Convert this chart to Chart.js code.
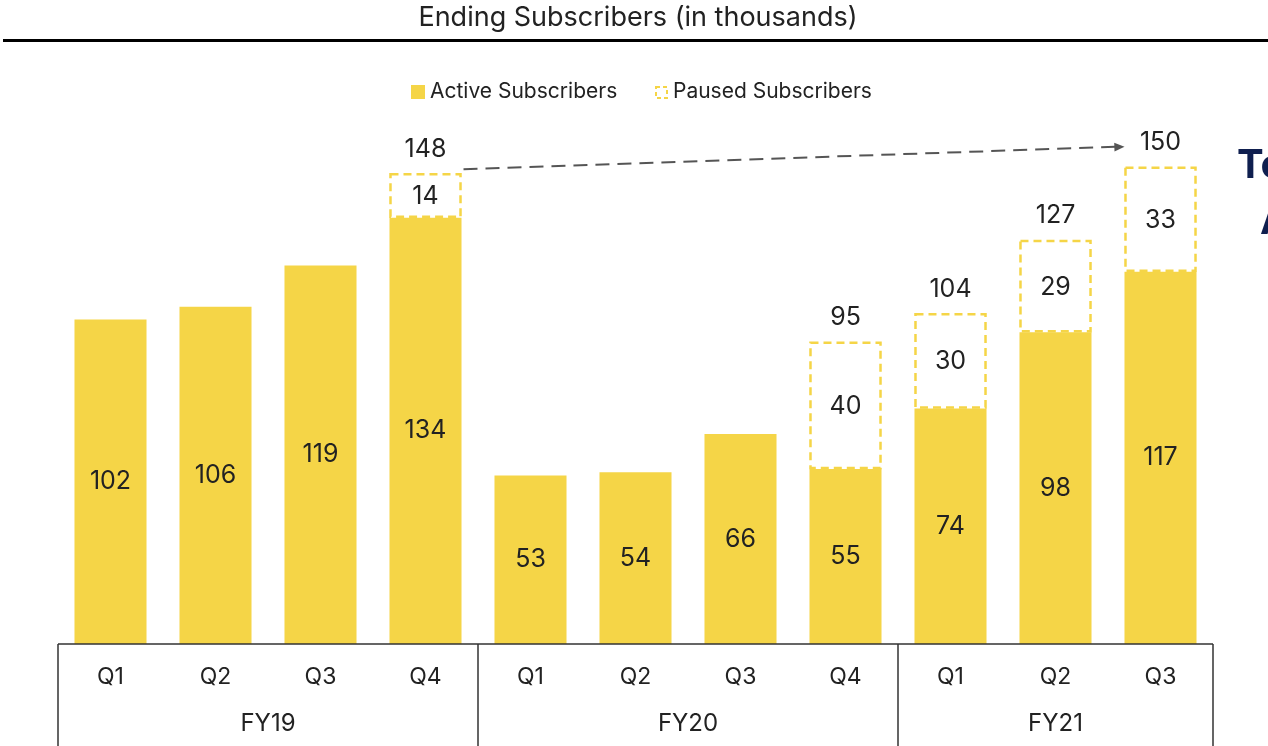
<!DOCTYPE html>
<html>
<head>
<meta charset="utf-8">
<script src="https://cdn.jsdelivr.net/npm/chart.js@4.4.1/dist/chart.umd.min.js"></script>
<style>
  html, body { margin: 0; padding: 0; background: #fff; }
  #wrap { width: 1268px; height: 746px; position: relative; }
</style>
</head>
<body>
<div id="wrap"><canvas id="chart"></canvas></div>
<script>
const quarters = ['Q1', 'Q2', 'Q3', 'Q4', 'Q1', 'Q2', 'Q3', 'Q4', 'Q1', 'Q2', 'Q3'];
const fiscalYears = ['FY19', 'FY20', 'FY21'];
const yearSizes = [4, 4, 3];
const active = [102, 106, 119, 134, 53, 54, 66, 55, 74, 98, 117];
const paused = [null, null, null, 14, null, null, null, 40, 30, 29, 33];
const totals = [null, null, null, 148, null, null, null, 95, 104, 127, 150];

const YELLOW = '#F5D547';
const TEXT = '#222222';
const FONT = 'Inter, "Noto Sans", sans-serif';

// title, legend, labels, arrow and the grouped axis table are drawn here
const decorations = {
  id: 'decorations',
  afterDatasetsDraw(chart) {
    const ctx = chart.ctx;
    const activeBars = chart.getDatasetMeta(0).data;
    const pausedBars = chart.getDatasetMeta(1).data;
    ctx.save();

    // paused boxes: dashed yellow outline
    ctx.strokeStyle = YELLOW;
    ctx.lineWidth = 2.5;
    ctx.setLineDash([8, 5]);
    pausedBars.forEach((bar, i) => {
      if (paused[i] == null) return;
      const w = bar.width;
      ctx.strokeRect(bar.x - w / 2 + 1, bar.y + 1, w - 2, bar.base - bar.y - 2);
    });
    ctx.setLineDash([]);

    ctx.fillStyle = TEXT;
    ctx.font = '25px ' + FONT;
    ctx.textAlign = 'center';
    ctx.textBaseline = 'middle';
    activeBars.forEach((bar, i) => {
      ctx.fillText(String(active[i]), bar.x, (bar.y + bar.base) / 2);
    });
    pausedBars.forEach((bar, i) => {
      if (paused[i] == null) return;
      ctx.fillText(String(paused[i]), bar.x, (bar.y + bar.base) / 2 + 1);
      ctx.fillText(String(totals[i]), bar.x, bar.y - 24);
    });

    // dashed growth arrow from FY19 Q4 to FY21 Q3
    const from = pausedBars[3];
    const to = pausedBars[10];
    const x1 = from.x + from.width / 2 + 2, y1 = from.y - 4;
    const x2 = to.x - 36, y2 = to.y - 20;
    ctx.strokeStyle = '#555';
    ctx.lineWidth = 2;
    ctx.setLineDash([14, 8]);
    ctx.beginPath();
    ctx.moveTo(x1, y1);
    ctx.lineTo(x2 - 8, y2);
    ctx.stroke();
    ctx.setLineDash([]);
    const ang = Math.atan2(y2 - y1, x2 - x1);
    ctx.fillStyle = '#555';
    ctx.beginPath();
    ctx.moveTo(x2, y2);
    ctx.lineTo(x2 - 11 * Math.cos(ang - 0.4), y2 - 11 * Math.sin(ang - 0.4));
    ctx.lineTo(x2 - 11 * Math.cos(ang + 0.4), y2 - 11 * Math.sin(ang + 0.4));
    ctx.closePath();
    ctx.fill();

    // category table under the bars
    const area = chart.chartArea;
    const bottom = chart.height;
    ctx.strokeStyle = '#333';
    ctx.lineWidth = 1.5;
    ctx.beginPath();
    ctx.moveTo(area.left, area.bottom);
    ctx.lineTo(area.right, area.bottom);
    ctx.moveTo(area.left, area.bottom);
    ctx.lineTo(area.left, bottom);
    ctx.moveTo(area.right, area.bottom);
    ctx.lineTo(area.right, bottom);
    let start = 0;
    const groupBounds = [];
    yearSizes.forEach((n, g) => {
      const first = activeBars[start];
      const last = activeBars[start + n - 1];
      const left = g === 0 ? area.left : (activeBars[start - 1].x + first.x) / 2;
      const right = g === yearSizes.length - 1 ? area.right : (last.x + activeBars[start + n].x) / 2;
      groupBounds.push([left, right]);
      if (g > 0) {
        ctx.moveTo(left, area.bottom);
        ctx.lineTo(left, bottom);
      }
      start += n;
    });
    ctx.stroke();

    ctx.fillStyle = TEXT;
    ctx.font = '23px ' + FONT;
    activeBars.forEach((bar, i) => {
      ctx.fillText(quarters[i], bar.x, area.bottom + 33);
    });
    ctx.font = '24px ' + FONT;
    groupBounds.forEach(([l, r], g) => {
      ctx.fillText(fiscalYears[g], (l + r) / 2, area.bottom + 80);
    });

    // heading and rule
    ctx.font = '27px ' + FONT;
    ctx.fillText('Ending Subscribers (in thousands)', 638, 18);
    ctx.fillStyle = '#000';
    ctx.fillRect(3, 39, 1265, 3);

    // legend
    ctx.font = '21px ' + FONT;
    ctx.textAlign = 'left';
    ctx.fillStyle = YELLOW;
    ctx.fillRect(411, 85, 14, 14);
    ctx.fillStyle = TEXT;
    ctx.fillText('Active Subscribers', 430, 92);
    ctx.strokeStyle = YELLOW;
    ctx.lineWidth = 2;
    ctx.setLineDash([4, 3]);
    ctx.strokeRect(656, 87, 11, 11);
    ctx.setLineDash([]);
    ctx.fillText('Paused Subscribers', 673, 92);

    // side heading running off the right edge
    ctx.fillStyle = '#0F1F4F';
    ctx.font = 'bold 40px ' + FONT;
    ctx.fillText('To', 1237, 166);
    ctx.fillText('A', 1260, 222);

    ctx.restore();
  }
};

new Chart(document.getElementById('chart'), {
  type: 'bar',
  data: {
    labels: quarters,
    datasets: [
      {
        label: 'Active Subscribers',
        data: active,
        backgroundColor: YELLOW,
        borderWidth: 0,
        barPercentage: 0.686,
        categoryPercentage: 1
      },
      {
        label: 'Paused Subscribers',
        data: paused,
        backgroundColor: '#ffffff',
        borderWidth: 0,
        barPercentage: 0.686,
        categoryPercentage: 1
      }
    ]
  },
  options: {
    responsive: true,
    maintainAspectRatio: false,
    animation: false,
    layout: { padding: { left: 58, right: 55, top: 135, bottom: 102 } },
    plugins: {
      legend: { display: false },
      tooltip: { enabled: false }
    },
    scales: {
      x: { stacked: true, display: false },
      y: { stacked: true, display: false, min: 0, max: 160 }
    }
  },
  plugins: [decorations]
});
</script>
</body>
</html>
